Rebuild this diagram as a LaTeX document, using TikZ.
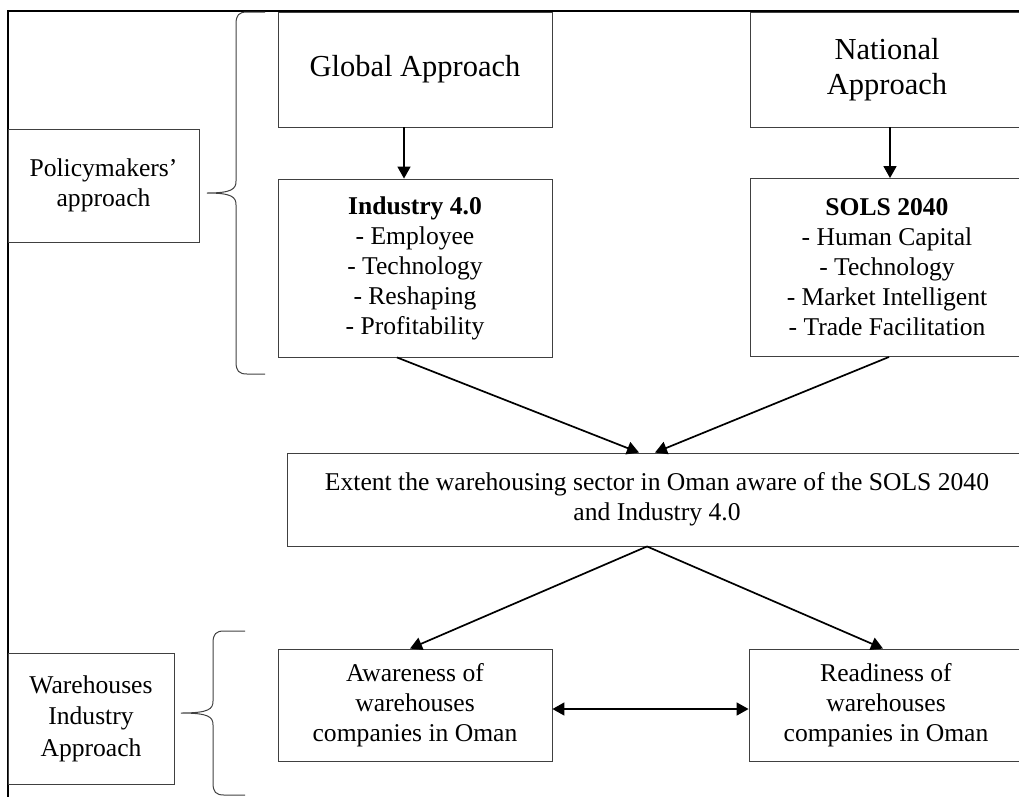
\documentclass[tikz,border=0pt]{standalone}
\usepackage{fontspec}
\setmainfont{Liberation Serif}
\usetikzlibrary{arrows.meta}

\begin{document}
\begin{tikzpicture}[x=1pt,y=-1pt,
		box/.style={draw=black!75,line width=0.9pt,align=center,inner sep=0pt,font=\fontsize{25.6}{30}\selectfont},
		bigbox/.style={box,font=\fontsize{30.5}{35}\selectfont},
		arr/.style={line width=1.7pt,-{Triangle[length=12pt,width=13pt]}},
		curly/.style={draw=black!75,line width=1pt}]
		\useasboundingbox (0,0) rectangle (1019,796);
		\clip (0,0) rectangle (1019,796);
		\draw[line width=1.6pt] (8,11) rectangle (1040,820);
		\node[box,minimum width=191pt,minimum height=113pt] (policy) at (103.5,185.5) {Policymakers’\\approach};
		\node[box,font=\fontsize{25.6}{31.5}\selectfont,minimum width=166pt,minimum height=131pt] (wh) at (91,718.5) {Warehouses\\Industry\\Approach};
		\node[bigbox,minimum width=274pt,minimum height=115pt] (global) at (415,69.5) {Global Approach};
		\node[bigbox,minimum width=274pt,minimum height=115pt] (national) at (887,69.5) {National\\Approach};
		\node[box,minimum width=274pt,minimum height=178pt] (industry) at (415,268) {\textbf{Industry 4.0}\\- Employee\\- Technology\\- Reshaping\\- Profitability};
		\node[box,minimum width=274pt,minimum height=178pt] (sols) at (887,267.5) {\textbf{SOLS 2040}\\- Human Capital\\- Technology\\- Market Intelligent\\- Trade Facilitation};
		\node[box,minimum width=740pt,minimum height=93pt] (extent) at (657,499.5) {Extent the warehousing sector in Oman aware of the SOLS 2040\\and Industry 4.0};
		\node[box,minimum width=274pt,minimum height=112pt] (aware) at (415,705) {Awareness of\\warehouses\\companies in Oman};
		\node[box,minimum width=274pt,minimum height=112pt] (ready) at (886,705) {Readiness of\\warehouses\\companies in Oman};
		\draw[curly] (265,12) -- (247,12) .. controls (239,12) and (236,15) .. (236,24) -- (236,181)
			.. controls (236,189) and (232,193) .. (207,193)
			.. controls (232,193) and (236,197) .. (236,205) -- (236,362)
			.. controls (236,371) and (239,374) .. (247,374) -- (265,374);
		\draw[curly] (245,631) -- (224,631) .. controls (216,631) and (213,634) .. (213,643) -- (213,701)
			.. controls (213,709) and (209,713) .. (181,713)
			.. controls (209,713) and (213,717) .. (213,725) -- (213,783)
			.. controls (213,792) and (216,795) .. (224,795) -- (245,795);
		\draw[arr] ([xshift=-11pt]global.south) -- ([xshift=-11pt]industry.north);
		\draw[arr] ([xshift=3pt]national.south) -- ([xshift=3pt]sols.north);
		\draw[arr] ([xshift=-18pt]industry.south) -- ([xshift=-18pt]extent.north);
		\draw[arr] ([xshift=2pt]sols.south) -- ([xshift=-2pt]extent.north);
		\draw[arr] ([xshift=-10pt]extent.south) -- ([xshift=-5pt]aware.north);
		\draw[arr] ([xshift=-10pt]extent.south) -- ([xshift=-3pt]ready.north);
		\draw[arr,{Triangle[length=12pt,width=13pt]}-{Triangle[length=12pt,width=13pt]}] ([yshift=-4pt]aware.east) -- ([yshift=-4pt]ready.west);
	\end{tikzpicture}
\end{document}
